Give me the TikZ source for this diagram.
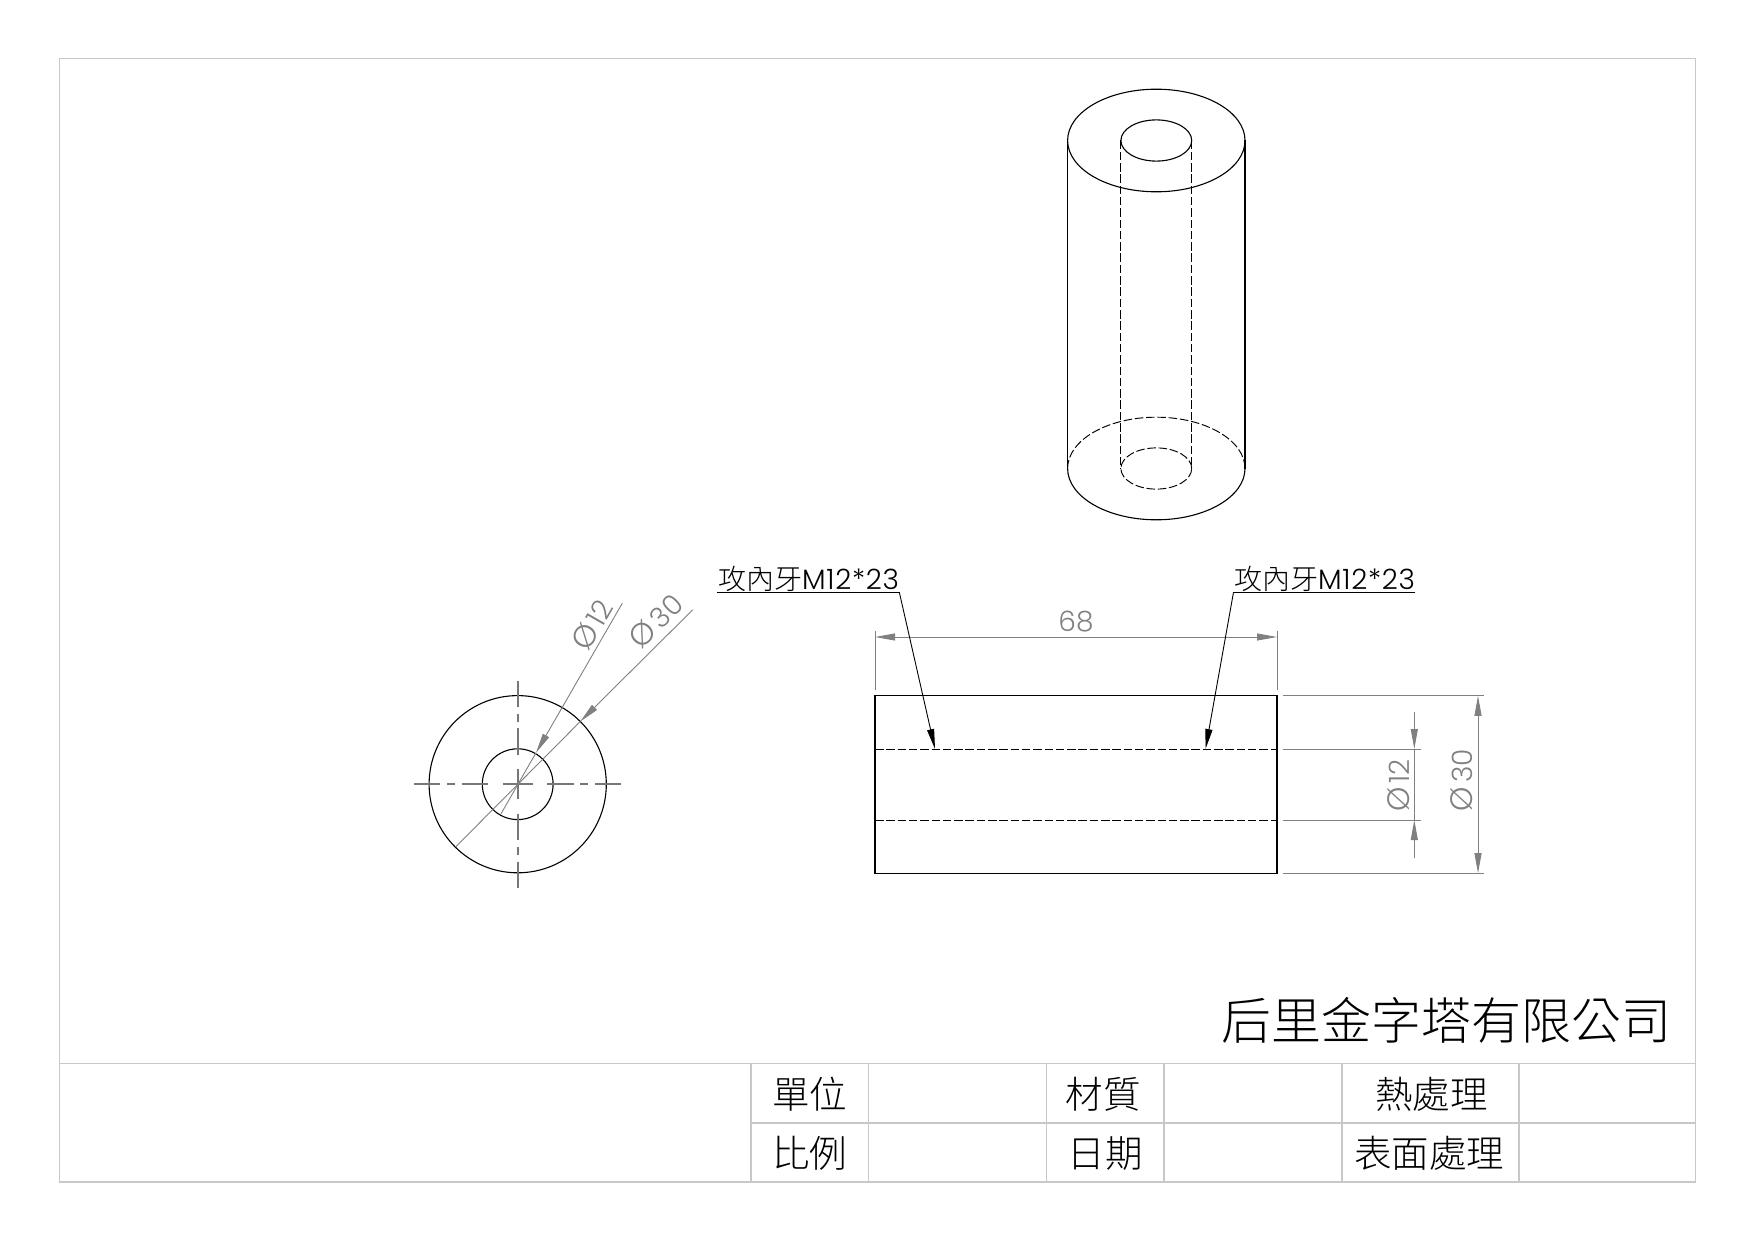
\documentclass[tikz,border=0pt]{standalone}
\usepackage{fontspec}
\usetikzlibrary{arrows.meta}
\setmainfont{Poppins}[UprightFont=* Light]
\newfontfamily\cjkf{Noto Sans CJK TC}[UprightFont=* Light]
\definecolor{dimgr}{HTML}{808080}
\definecolor{framegr}{HTML}{C8C8C8}
\definecolor{centergr}{HTML}{777777}
\newcommand{\dimphi}{{\fontsize{31}{31}\selectfont Ø}\hspace{4pt}}
\tikzset{
  frameline/.style={draw=framegr,line width=1.1pt},
  objline/.style={draw=black,line width=1.1pt},
  hidline/.style={draw=black,line width=.95pt,dash pattern=on 8.5pt off 2.8pt},
  centerseg/.style={draw=centergr,line width=1.8pt},
  dimline/.style={draw=dimgr,line width=.9pt},
  dimarrow/.style={dimline,-{Triangle[length=20pt,width=7pt,fill=dimgr]}},
  leadarrow/.style={draw=black,line width=.9pt,-{Triangle[length=20pt,width=7pt,fill=black]}},
  dimtext/.style={text=dimgr,inner sep=0pt,font=\fontsize{28}{28}\selectfont},
  noteline/.style={draw=black,line width=1.1pt},
  notetext/.style={inner sep=0pt,anchor=base west,font=\fontsize{28}{28}\selectfont},
  tabletext/.style={inner sep=0pt,font=\cjkf\fontsize{37.5}{37.5}\selectfont},
  titletext/.style={inner sep=0pt,font=\cjkf\fontsize{50}{50}\selectfont},
}
\begin{document}
\begin{tikzpicture}[x=1pt,y=-1pt]
\useasboundingbox (0,0) rectangle (1755,1241);
% frame and title block
\draw[frameline] (59.5,58.5) rectangle (1695.5,1182);
\draw[frameline] (59.5,1063.7) -- (1695.5,1063.7);
\draw[frameline] (751,1123) -- (1695.5,1123);
\foreach \xx in {751,868.5,1046.5,1164,1342,1519}
  \draw[frameline] (\xx,1063.7) -- (\xx,1182);
\node[titletext] (company) at (1446,1020) {后里金字塔有限公司};
\node[tabletext] (t1) at (809.5,1094) {單位};
\node[tabletext] (t2) at (1103,1094) {材質};
\node[tabletext] (t3) at (1431.5,1094) {熱處理};
\node[tabletext] (t4) at (809.5,1153.5) {比例};
\node[tabletext] (t5) at (1105,1153.5) {日期};
\node[tabletext] (t6) at (1429,1153.5) {表面處理};
% isometric view
\def\cx{1156.3}
\draw[objline] (\cx,140.5) ellipse [x radius=88.7pt,y radius=51.3pt];
\draw[objline] (\cx,140.5) ellipse [x radius=35.4pt,y radius=20.6pt];
\draw[objline] (\cx-88.7,140.5) -- (\cx-88.7,468.5);
\draw[objline] (\cx+88.7,140.5) -- (\cx+88.7,468.5);
\draw[objline] (\cx-88.7,468.5) arc [start angle=180,end angle=360,x radius=88.7pt,y radius=51.3pt];
\draw[hidline] (\cx-88.7,468.5) arc [start angle=180,end angle=0,x radius=88.7pt,y radius=51.3pt];
\draw[hidline] (\cx,468.5) ellipse [x radius=35.4pt,y radius=20.6pt];
\draw[hidline] (\cx-35.4,140.5) -- (\cx-35.4,468.5);
\draw[hidline] (\cx+35.4,140.5) -- (\cx+35.4,468.5);
% end view
\coordinate (c) at (517.7,784.2);
\draw[objline] (c) circle [radius=88.6pt];
\draw[objline] (c) circle [radius=35.4pt];
\foreach \aa/\bb in {-15/15,29.3/56,62.7/70.7,77.7/103.7,-56/-29.3,-70.7/-62.7,-103.7/-77.7}{
  \draw[centerseg] ([xshift=\aa pt]c) -- ([xshift=\bb pt]c);
  \draw[centerseg] ([yshift=\aa pt]c) -- ([yshift=\bb pt]c);
}
\coordinate (a12s) at (622.3,603.2);
\coordinate (a12t) at (536,752.8);
\coordinate (a12e) at (501,813.8);
\coordinate (a30s) at (692.7,609.8);
\coordinate (a30t) at (580.3,721.5);
\coordinate (a30e) at (456,846.5);
\draw[dimarrow] (a12s) -- (a12t);
\draw[dimline] (a12t) -- (a12e);
\draw[dimarrow] (a30s) -- (a30t);
\draw[dimline] (a30t) -- (a30e);
\node[dimtext,rotate=60] (d12a) at (592,624.5) {\dimphi 12};
\node[dimtext,rotate=45] (d30a) at (656,621) {\dimphi 30};
% side view
\draw[objline] (875,695.8) rectangle (1277,873.2);
\draw[hidline] (875,749.2) -- (1277,749.2);
\draw[hidline] (875,820.2) -- (1277,820.2);
% dimension 68
\coordinate (l68) at (875,637);
\coordinate (r68) at (1277,637);
\draw[dimline] (875,630.5) -- (875,689.5);
\draw[dimline] (1277,630.5) -- (1277,689.5);
\draw[dimarrow] (1076,637) -- (l68);
\draw[dimarrow] (1076,637) -- (r68);
\node[dimtext] (d68) at (1076,622) {68};
% right-hand dimensions
\draw[dimline] (1282.7,695.8) -- (1484.3,695.8);
\draw[dimline] (1282.7,873.2) -- (1484.3,873.2);
\draw[dimline] (1282.7,749) -- (1420.7,749);
\draw[dimline] (1282.7,820) -- (1420.7,820);
\coordinate (d30t) at (1478,695.8);
\coordinate (d30b) at (1478,873.2);
\draw[dimarrow] (1478,784) -- (d30t);
\draw[dimarrow] (1478,784) -- (d30b);
\coordinate (d12t) at (1414.3,749);
\coordinate (d12b) at (1414.3,820);
\draw[dimarrow] (1414.3,711.5) -- (d12t);
\draw[dimarrow] (1414.3,857.5) -- (d12b);
\draw[dimline] (d12t) -- (d12b);
\node[dimtext,rotate=90] (d12v) at (1399,785.5) {\dimphi 12};
\node[dimtext,rotate=90] (d30v) at (1462,780) {\dimphi 30};
% notes
\node[notetext] (n1) at (718,589.5) {{\cjkf 攻內牙}\addfontfeature{LetterSpace=2.5}M12*23};
\node[notetext] (n2) at (1234,589.5) {{\cjkf 攻內牙}\addfontfeature{LetterSpace=2.5}M12*23};
\coordinate (u1a) at (717.3,592.2);
\coordinate (u1b) at (899.3,592.2);
\coordinate (u2a) at (1233.5,592.2);
\coordinate (u2b) at (1414.5,592.2);
\coordinate (t1tip) at (935,749);
\coordinate (t2tip) at (1205.5,749);
\draw[noteline] (u1a) -- (u1b);
\draw[leadarrow] (u1b) -- (t1tip);
\draw[noteline] (u2b) -- (u2a);
\draw[leadarrow] (u2a) -- (t2tip);
\end{tikzpicture}
\end{document}
